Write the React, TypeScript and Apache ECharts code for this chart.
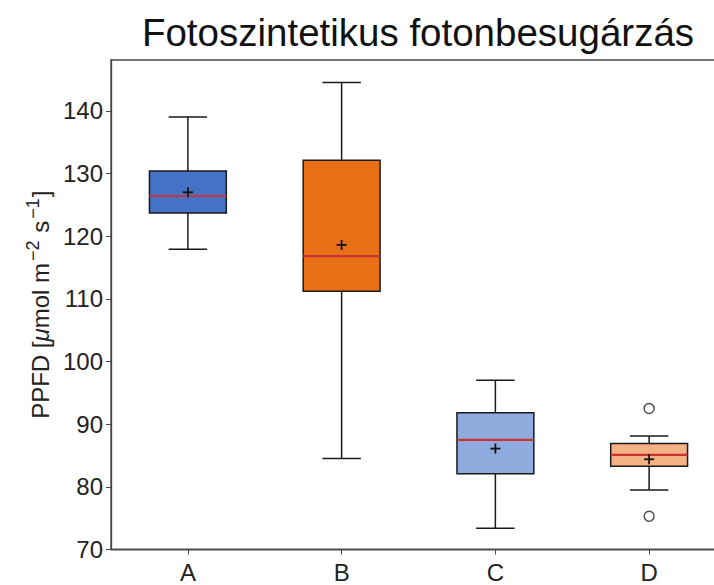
import React, { useEffect, useRef } from "react";
import * as echarts from "echarts";

const categories = ["A", "B", "C", "D"];
const whiskerLow = [117.9, 84.5, 73.4, 79.5];
const q1 = [123.7, 111.2, 82.1, 83.3];
const medians = [126.4, 116.8, 87.5, 85.1];
const q3 = [130.4, 132.1, 91.8, 86.9];
const whiskerHigh = [139.0, 144.5, 97.0, 88.1];
const means = [127.0, 118.6, 86.1, 84.4];
const outliers: [number, number][] = [
  [3, 92.5],
  [3, 75.3],
];
const boxColors = ["#4472C4", "#E97017", "#8FAADC", "#F4B183"];
const yTicks = [70, 80, 90, 100, 110, 120, 130, 140];

export default function App() {
  const ref = useRef<HTMLDivElement>(null);
  useEffect(() => {
    if (!ref.current) return;
    const chart = echarts.init(ref.current, null, { renderer: "svg" });
    const boxData = categories.map((_, i) => [
      i,
      whiskerLow[i],
      q1[i],
      medians[i],
      q3[i],
      whiskerHigh[i],
      means[i],
    ]);
    const edge = "#1a1a1a";
    const font = "Liberation Sans";
    chart.setOption({
      animation: false,
      title: {
        text: "Fotoszintetikus fotonbesugárzás",
        left: 413,
        top: 8,
        textAlign: "center",
        textStyle: {
          fontFamily: font,
          fontSize: 38.5,
          fontWeight: "normal",
          color: "#111",
        },
      },
      grid: {
        left: 111,
        top: 60,
        width: 615,
        height: 489.5,
        outerBoundsMode: "none",
        containLabel: false,
        show: true,
        borderColor: "#444",
        borderWidth: 1.3,
        backgroundColor: "transparent",
      },
      xAxis: {
        type: "category",
        data: categories,
        boundaryGap: true,
        axisLine: { show: true, lineStyle: { color: "#444", width: 1.3 } },
        axisTick: { show: true, alignWithLabel: true, length: 5, lineStyle: { color: "#444" } },
        axisLabel: {
          fontFamily: font,
          fontSize: 24,
          color: "#222",
          margin: 11,
        },
        splitLine: { show: false },
      },
      yAxis: {
        type: "value",
        min: 70,
        max: 148.1,
        interval: 10,
        axisLine: { show: true, lineStyle: { color: "#444", width: 1.3 } },
        axisTick: {
          show: true,
          length: 5,
          lineStyle: { color: "#444" },
          customValues: yTicks,
        },
        axisLabel: {
          fontFamily: font,
          fontSize: 24,
          color: "#222",
          margin: 8,
          customValues: yTicks,
        },
        splitLine: { show: false },
        name: "{n|PPFD [}{i|μ}{n|mol m}{s|−2}{n| s}{s|−1}{n|]}",
        nameLocation: "middle",
        nameGap: 56,
        nameRotate: 90,
        nameTextStyle: {
          fontFamily: font,
          fontSize: 24,
          color: "#222",
          rich: {
            n: { fontFamily: font, fontSize: 24, color: "#222", lineHeight: 28, verticalAlign: "bottom" },
            i: { fontFamily: font, fontSize: 24, fontStyle: "italic", color: "#222", lineHeight: 28, verticalAlign: "bottom" },
            s: { fontFamily: font, fontSize: 18, color: "#222", lineHeight: 28, verticalAlign: "top", padding: [0, 1, 0, 2] },
          },
        },
      },
      series: [
        {
          type: "custom",
          data: boxData,
          encode: { x: 0, y: [1, 2, 3, 4, 5] },
          renderItem: (params: any, api: any) => {
            const idx = api.value(0);
            const band = api.size([1, 0])[0];
            const bw = band * 0.5;
            const cw = band * 0.25;
            const pLow = api.coord([idx, api.value(1)]);
            const pQ1 = api.coord([idx, api.value(2)]);
            const pMed = api.coord([idx, api.value(3)]);
            const pQ3 = api.coord([idx, api.value(4)]);
            const pHigh = api.coord([idx, api.value(5)]);
            const pMean = api.coord([idx, api.value(6)]);
            const cx = pMed[0];
            const lineStyle = { stroke: edge, lineWidth: 1.5 };
            const m = 5;
            return {
              type: "group",
              children: [
                { type: "line", shape: { x1: cx, y1: pQ3[1], x2: cx, y2: pHigh[1] }, style: lineStyle },
                { type: "line", shape: { x1: cx, y1: pQ1[1], x2: cx, y2: pLow[1] }, style: lineStyle },
                { type: "line", shape: { x1: cx - cw / 2, y1: pHigh[1], x2: cx + cw / 2, y2: pHigh[1] }, style: lineStyle },
                { type: "line", shape: { x1: cx - cw / 2, y1: pLow[1], x2: cx + cw / 2, y2: pLow[1] }, style: lineStyle },
                {
                  type: "rect",
                  shape: { x: cx - bw / 2, y: pQ3[1], width: bw, height: pQ1[1] - pQ3[1] },
                  style: { fill: boxColors[idx], stroke: edge, lineWidth: 1.5 },
                },
                {
                  type: "line",
                  shape: { x1: cx - bw / 2, y1: pMed[1], x2: cx + bw / 2, y2: pMed[1] },
                  style: { stroke: "#CC3333", lineWidth: 2.2 },
                },
                { type: "line", shape: { x1: cx - m, y1: pMean[1], x2: cx + m, y2: pMean[1] }, style: { stroke: "#111", lineWidth: 1.8 } },
                { type: "line", shape: { x1: cx, y1: pMean[1] - m, x2: cx, y2: pMean[1] + m }, style: { stroke: "#111", lineWidth: 1.8 } },
              ],
            };
          },
        },
        {
          type: "scatter",
          data: outliers,
          symbol: "circle",
          symbolSize: 10,
          itemStyle: { color: "#fff", borderColor: "#222", borderWidth: 1.5 },
        },
      ],
    });
    return () => chart.dispose();
  }, []);
  return <div ref={ref} style={{ width: 714, height: 585, position: "absolute", left: 0, top: 0 }} />;
}
